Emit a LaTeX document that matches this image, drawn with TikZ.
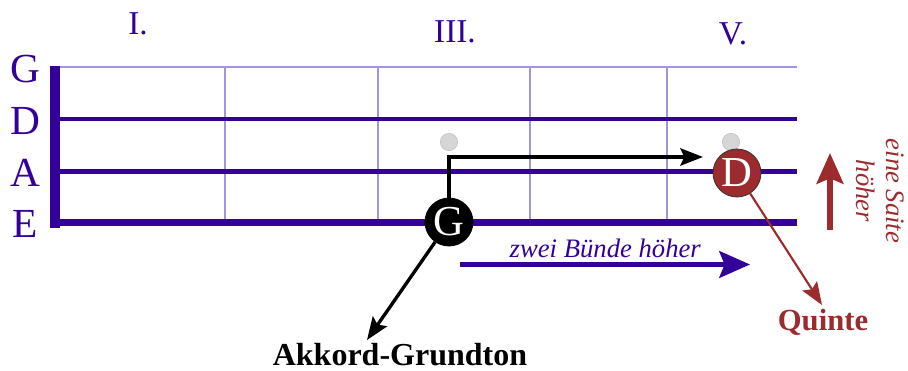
\documentclass[tikz,border=0pt]{standalone}
\usepackage{fontspec}
\setmainfont{Liberation Serif}
\usepackage{xcolor}
\usepackage{tikz}
\usetikzlibrary{shapes,arrows.meta}
\definecolor{saite}{HTML}{330099}
\definecolor{bund}{HTML}{A493DD}
\definecolor{quinte}{HTML}{9C2B2E}
\definecolor{leerton}{HTML}{D6D6D6}
\tikzstyle{ton} = [circle, draw, line width=0.6pt, minimum size=36pt, inner sep=0pt,
    text=white, font=\fontsize{32}{32}\selectfont]
\tikzstyle{leer} = [circle, draw=black!25, fill=leerton, minimum size=13pt, inner sep=0pt]
\tikzstyle{saitname} = [anchor=base, text=saite, font=\fontsize{31}{31}\selectfont]
\tikzstyle{bundname} = [anchor=base, text=saite, font=\fontsize{25}{25}\selectfont]
\tikzstyle{line} = [draw, line width=2.5pt, -{Stealth[length=17pt,width=13pt,inset=3pt]}]
\tikzstyle{rline} = [draw=quinte, line width=1.6pt, -{Stealth[length=17pt,width=13pt,inset=3pt]}]
\tikzstyle{bigline} = [draw, line width=3.75pt, -{Stealth[length=23pt,width=20pt,inset=4pt]}]

\begin{document}
\begin{tikzpicture}[x=0.75pt, y=-0.75pt]
  \useasboundingbox (0,0) rectangle (908,371);
  % Frets
  \draw [bund, line width=0.8pt] (225,67) -- (225,222);
  \draw [bund, line width=0.8pt] (378,67) -- (378,222);
  \draw [bund, line width=0.8pt] (530,67) -- (530,222);
  \draw [bund, line width=0.8pt] (667,67) -- (667,222);
  % Strings and nut
  \draw [bund, line width=1.5pt] (50,67) -- (797,67);
  \draw [saite, line width=3pt] (55,118.5) -- (797,118.5);
  \draw [saite, line width=3.75pt] (55,171.5) -- (797,171.5);
  \draw [saite, line width=5pt] (55,222.5) -- (797,222.5);
  \draw [saite, line width=7.5pt] (55,66) -- (55,228);
  % Place nodes
  \node [saitname] (nG) at (25,82) {G};
  \node [saitname] (nD) at (25,134) {D};
  \node [saitname] (nA) at (25,186) {A};
  \node [saitname] (nE) at (25,237) {E};
  \node [bundname] (b1) at (138,34) {I.};
  \node [bundname] (b3) at (455,42) {III.};
  \node [bundname] (b5) at (733,45) {V.};
  \node [leer] (leer3) at (449,142) {};
  \node [leer] (leer5) at (731,142) {};
  \node [ton, fill=black] (G) at (449,222) {G};
  \node [ton, fill=quinte, draw=black!80] (D) at (737,173) {D};
  \node [anchor=base west, text=saite, font=\fontsize{20}{20}\selectfont\itshape] (zwei) at (505,257) {zwei Bünde höher};
  \node [anchor=base, font=\fontsize{24}{24}\selectfont\bfseries] (grund) at (400,365) {Akkord-Grundton};
  \node [anchor=base, text=quinte, font=\fontsize{23}{23}\selectfont\bfseries] (quint) at (823,330) {Quinte};
  \node [rotate=-90, align=center, text=quinte, font=\fontsize{20}{22.5}\selectfont\itshape] (hoeher) at (880,191) {eine Saite\\höher};
  \coordinate (ziel) at (703,157);
  \coordinate (grundpfeil) at (367,340);
  \coordinate (quintpfeil) at (822,305);
  \coordinate (bundA) at (460,264.5);
  \coordinate (bundB) at (750,264.5);
  \coordinate (saiteA) at (830,230);
  \coordinate (saiteB) at (830,153);
  % Draw edges
  \path [line] (G.north) |- (ziel);
  \path [line] (G) -- (grundpfeil);
  \path [rline] (D) -- (quintpfeil);
  \path [bigline, saite] (bundA) -- (bundB);
  \path [bigline, quinte, line width=4.5pt] (saiteA) -- (saiteB);
\end{tikzpicture}
\end{document}
